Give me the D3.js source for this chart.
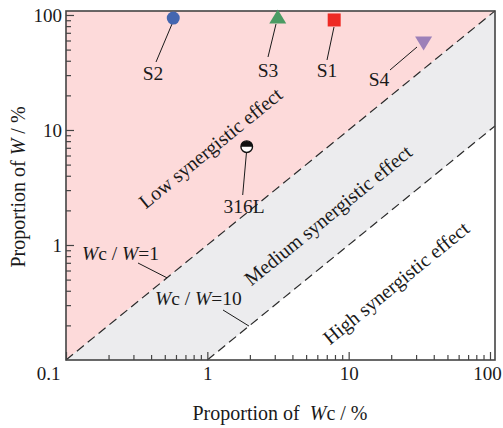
<!DOCTYPE html>
<html>
<head>
<meta charset="utf-8">
<script src="https://cdn.jsdelivr.net/npm/d3@7"></script>
<style>
  html, body { margin: 0; padding: 0; background: #fff; }
  svg { display: block; font-family: "Liberation Serif", "Times New Roman", serif; }
</style>
</head>
<body>
<svg id="chart" width="503" height="428"></svg>
<script>
// Samples: proportion of corrosion loss Wc (%) vs proportion of total loss W (%)
const sampleNames = ["S1", "S2", "S3", "S4", "316L"];
const wcValues    = [7.9, 0.574, 3.15, 33.9, 1.90];
const wValues     = [90.5, 94, 96, 57, 7.16];
const sampleShapes = ["square", "circle", "triangle", "triangleDown", "halfCircle"];
const sampleColors = ["#ee2a24", "#4466b0", "#4a9b63", "#9c80b8", "#111"];

// Ratio boundaries Wc / W
const ratioLines = [1, 10];
const ratioLabels = ["=1", "=10"];

// Axis ticks
const xTickValues = [0.1, 1, 10, 100];
const yTickValues = [1, 10, 100];
const tickLabels = ["0.1", "1", "10", "100"];

// Region names
const regionNames = ["Low synergistic effect", "Medium synergistic effect", "High synergistic effect"];
const regionWc = [1.05, 7.14, 21.6];
const regionW  = [7.0, 1.82, 0.468];

const svg = d3.select("#chart");
const plotLeft = 66, plotRight = 495, plotTop = 11, plotBottom = 360;

const x = d3.scaleLog().domain([0.1, 108.5]).range([plotLeft, plotRight]);
const y = d3.scaleLog().domain([0.1, 108.3]).range([plotBottom, plotTop]);
const [xMin, xMax] = x.domain();
const [yMin, yMax] = y.domain();

const textColor = "#1a1a1a";

// Zone fills: pink above Wc/W=1, grey between 1 and 10, white below 10
svg.append("polygon")
  .attr("points", [[x(xMin), y(yMin)], [x(xMax), y(xMax / ratioLines[0])], [x(xMax), y(yMax)], [x(xMin), y(yMax)]].join(" "))
  .attr("fill", "#fddada");
svg.append("polygon")
  .attr("points", [[x(xMin), y(yMin)], [x(yMin * ratioLines[1]), y(yMin)], [x(xMax), y(xMax / ratioLines[1])], [x(xMax), y(xMax / ratioLines[0])]].join(" "))
  .attr("fill", "#ececee");

// Dashed ratio lines
ratioLines.forEach(r => {
  const x0 = Math.max(xMin, yMin * r);
  svg.append("line")
    .attr("x1", x(x0)).attr("y1", y(x0 / r))
    .attr("x2", x(xMax)).attr("y2", y(xMax / r))
    .attr("stroke", "#2a2a2a").attr("stroke-width", 1.2)
    .attr("stroke-dasharray", "9,5");
});

// Inward log ticks
const minorX = [];
const minorY = [];
for (let e = -1; e < 2; e++) {
  for (let m = 2; m <= 9; m++) {
    minorX.push(m * Math.pow(10, e));
    minorY.push(m * Math.pow(10, e));
  }
}
const axisColor = "#444";
const gx = svg.append("g").attr("transform", `translate(0,${plotBottom})`);
gx.call(d3.axisBottom(x).tickValues(minorX).tickSize(-5).tickFormat(""));
gx.call(g => g.append("g").call(d3.axisBottom(x).tickValues(xTickValues).tickSize(-8).tickFormat((d, i) => tickLabels[i])));
const gy = svg.append("g").attr("transform", `translate(${plotLeft},0)`);
gy.call(d3.axisLeft(y).tickValues(minorY).tickSize(-5).tickFormat(""));
gy.call(g => g.append("g").call(d3.axisLeft(y).tickValues(yTickValues).tickSize(-8).tickFormat(d => tickLabels[xTickValues.indexOf(d)])));
svg.selectAll(".domain").remove();
svg.selectAll(".tick line").attr("stroke", axisColor).attr("stroke-width", 1.2);
svg.selectAll(".tick text")
  .attr("fill", textColor).style("font-size", "19px")
  .style("font-family", "'Liberation Serif', serif");
gx.selectAll(".tick text").attr("dy", "0.71em").attr("y", 7);
gy.selectAll(".tick text").attr("x", -4).attr("dy", "0.34em");
// nudge the end labels so they stay clear of the corner and the edge
gx.selectAll(".tick text").filter(d => d === 0.1).attr("dx", -18);
gx.selectAll(".tick text").filter(d => d === 100).attr("dx", -3);

// Frame
svg.append("rect")
  .attr("x", plotLeft).attr("y", plotTop)
  .attr("width", plotRight - plotLeft).attr("height", plotBottom - plotTop)
  .attr("fill", "none").attr("stroke", axisColor).attr("stroke-width", 1.6);

// Ratio line labels with leaders
const ratioLabelLayout = [
  { tx: 82, ty: 260, lx1: 138, ly1: 263, lxOnLine: 167 },
  { tx: 155, ty: 305, lx1: 223, ly1: 310, lxOnLine: 249 }
];
ratioLines.forEach((r, i) => {
  const L = ratioLabelLayout[i];
  const t = svg.append("text").attr("x", L.tx).attr("y", L.ty)
    .attr("fill", textColor).style("font-size", "19.5px");
  t.append("tspan").style("font-style", "italic").text("W");
  t.append("tspan").text("c / ");
  t.append("tspan").style("font-style", "italic").text("W");
  t.append("tspan").text(ratioLabels[i]);
  const xv = x.invert(L.lxOnLine);
  svg.append("line")
    .attr("x1", L.lx1).attr("y1", L.ly1)
    .attr("x2", x(xv)).attr("y2", y(xv / r))
    .attr("stroke", textColor).attr("stroke-width", 1);
});

// Region labels, rotated along the diagonal
const angle = -Math.atan((y(1) - y(10)) / (x(10) - x(1))) * 180 / Math.PI;
regionNames.forEach((name, i) => {
  svg.append("text")
    .attr("transform", `translate(${x(regionWc[i])},${y(regionW[i])}) rotate(${angle})`)
    .attr("text-anchor", "middle").attr("dominant-baseline", "central")
    .attr("fill", textColor).style("font-size", "20px")
    .text(name);
});

// Sample labels and leader lines
const labelLayout = [
  { lx: 327, ly: 77, a: [334, 27], b: [327, 60] },
  { lx: 153, ly: 80, a: [172, 24], b: [156, 62] },
  { lx: 268, ly: 77, a: [276, 24], b: [268, 57] },
  { lx: 379, ly: 86, a: [390, 70], b: [417, 47] },
  { lx: 244, ly: 213, a: [246.5, 152], b: [242.7, 195] }
];
sampleNames.forEach((name, i) => {
  const L = labelLayout[i];
  svg.append("line")
    .attr("x1", L.a[0]).attr("y1", L.a[1]).attr("x2", L.b[0]).attr("y2", L.b[1])
    .attr("stroke", textColor).attr("stroke-width", 1);
  svg.append("text").attr("x", L.lx).attr("y", L.ly)
    .attr("text-anchor", "middle").attr("fill", textColor)
    .style("font-size", "19.5px").text(name);
});

// Markers
sampleNames.forEach((name, i) => {
  const cx = x(wcValues[i]), cy = y(wValues[i]);
  const g = svg.append("g").attr("transform", `translate(${cx},${cy})`);
  const c = sampleColors[i];
  switch (sampleShapes[i]) {
    case "square":
      g.append("rect").attr("x", -6.5).attr("y", -6.5).attr("width", 13).attr("height", 13).attr("fill", c);
      break;
    case "circle":
      g.append("circle").attr("r", 6.5).attr("fill", c);
      break;
    case "triangle":
      g.append("path").attr("d", "M0,-7.5 L8.5,6.5 L-8.5,6.5 Z").attr("fill", c);
      break;
    case "triangleDown":
      g.append("path").attr("d", "M0,7.5 L8.5,-6.5 L-8.5,-6.5 Z").attr("fill", c);
      break;
    case "halfCircle":
      g.append("circle").attr("r", 5.8).attr("fill", "#fff").attr("stroke", c).attr("stroke-width", 1.4);
      g.append("path").attr("d", "M-5.8,0 A5.8,5.8 0 0 1 5.8,0 Z").attr("fill", c);
      break;
  }
});

// Axis titles
const xt = svg.append("text").attr("x", 280).attr("y", 420)
  .attr("text-anchor", "middle").attr("fill", textColor).style("font-size", "20px")
  .attr("xml:space", "preserve");
xt.append("tspan").text("Proportion of\u00a0 ");
xt.append("tspan").style("font-style", "italic").text("W");
xt.append("tspan").text("c / %");

const yt = svg.append("text")
  .attr("transform", "translate(25,187) rotate(-90)")
  .attr("text-anchor", "middle").attr("fill", textColor).style("font-size", "20px");
yt.append("tspan").text("Proportion of ");
yt.append("tspan").style("font-style", "italic").text("W");
yt.append("tspan").text(" / %");
</script>
</body>
</html>
